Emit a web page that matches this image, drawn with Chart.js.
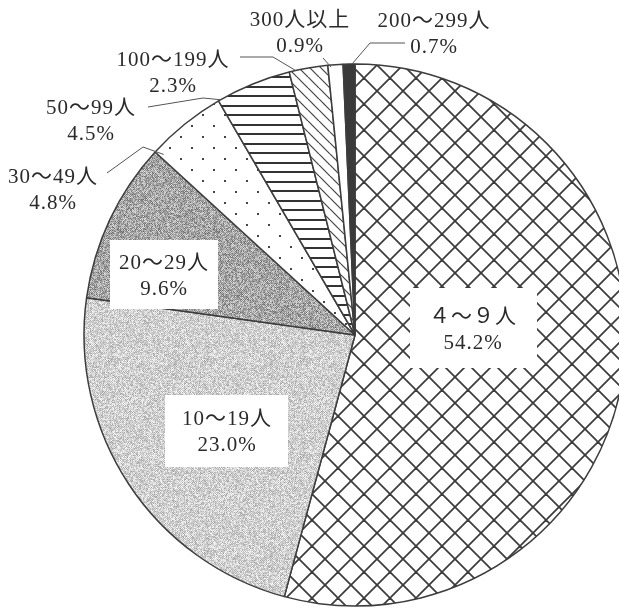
<!DOCTYPE html>
<html>
<head>
<meta charset="utf-8">
<script src="https://cdn.jsdelivr.net/npm/chart.js@4.4.1/dist/chart.umd.min.js"></script>
<style>
  html, body { margin: 0; padding: 0; background: #fff; overflow: hidden; }
  canvas { display: block; }
</style>
</head>
<body>
<canvas id="pie" width="619" height="612"></canvas>
<script>
// Establishments by number of employees (share, %)
const categories = ['４～９人', '10～19人', '20～29人', '30～49人', '50～99人', '100～199人', '300人以上', '200～299人'];
const shares = [54.2, 23.0, 9.6, 4.8, 4.5, 2.3, 0.9, 0.7];

// Label placement, relative to the pie centre (px)
const labelOffsets = [[118, -4.5], [-128, 97.5], [-191, -59], [-302, -144.5], [-264, -213.5], [-182, -261.5], [-55, -301.5], [79, -300.5]];
// White boxes behind the labels that sit inside the pie: [dx, dy, w, h]
const labelBoxes = [[118.5, -7, 127, 80], [-128.5, 96, 123, 72], [-191, -60.5, 108, 69], null, null, null, null, null];
// Leader lines for outside labels: bend points, then where on the slice they end
const leaderPaths = [null, null, null,
  [[-248, -162], [-212, -188]],
  [[-207, -228], [-152, -237]],
  [[-115, -278], [-82, -278]],
  [[-32, -277]],
  [[50, -292], [15, -292]]];
const leaderEnds = [null, null, null, [0.05, -8], [0.03, 0], [0.17, 0], [0.2, -2], [0.75, 0]];

const canvas = document.getElementById('pie');
const ctx = canvas.getContext('2d');

function makeTile(w, h, paint) {
  const c = document.createElement('canvas');
  c.width = w; c.height = h;
  const g = c.getContext('2d');
  paint(g, w, h);
  return ctx.createPattern(c, 'repeat');
}

// cross-hatch
const crossHatch = makeTile(26, 26, (g, s) => {
  g.fillStyle = '#fff'; g.fillRect(0, 0, s, s);
  g.strokeStyle = '#3c3c3c'; g.lineWidth = 1.8;
  for (let k = -1; k <= 1; k++) {
    g.beginPath(); g.moveTo(k * s, 0); g.lineTo(k * s + s, s); g.stroke();
    g.beginPath(); g.moveTo(k * s + s, 0); g.lineTo(k * s, s); g.stroke();
  }
});

// integer hash for the halftone screens
function hash(x, y, s) {
  let h = Math.imul(x, 374761393) + Math.imul(y, 668265263) + Math.imul(s, 982451653);
  h = Math.imul(h ^ (h >>> 13), 1274126177);
  h = h ^ (h >>> 16);
  return (h >>> 0) / 4294967295;
}

// screened grey
function grain(base, amp, seed) {
  return makeTile(96, 96, (g, w, h) => {
    const img = g.createImageData(w, h);
    for (let y = 0; y < h; y++) {
      for (let x = 0; x < w; x++) {
        const n = hash(x, y, seed);
        const checker = ((x + y) & 1) ? 1 : -1;
        let v = base + (n * 2 - 1) * amp + checker * amp * 0.3;
        v = Math.max(0, Math.min(255, v));
        const i = (y * w + x) * 4;
        img.data[i] = img.data[i + 1] = img.data[i + 2] = v;
        img.data[i + 3] = 255;
      }
    }
    g.putImageData(img, 0, 0);
  });
}
const lightScreen = grain(208, 38, 3);
const darkScreen = grain(166, 50, 11);

// sparse dots
const dots = makeTile(22, 22, (g) => {
  g.fillStyle = '#fff'; g.fillRect(0, 0, 22, 22);
  g.fillStyle = '#444';
  g.fillRect(4, 4, 2, 2); g.fillRect(15, 15, 2, 2);
});

// horizontal rules
const rules = makeTile(8, 19, (g) => {
  g.fillStyle = '#fff'; g.fillRect(0, 0, 8, 19);
  g.fillStyle = '#333';
  g.fillRect(0, 0, 8, 2); g.fillRect(0, 10, 8, 2);
});

// back-slash diagonals
const slashes = makeTile(11, 11, (g, s) => {
  g.fillStyle = '#fff'; g.fillRect(0, 0, s, s);
  g.strokeStyle = '#444'; g.lineWidth = 1.2;
  for (let k = -1; k <= 1; k++) {
    g.beginPath(); g.moveTo(k * s, 0); g.lineTo(k * s + s, s); g.stroke();
  }
});

const fills = [crossHatch, lightScreen, darkScreen, dots, rules, slashes, '#ffffff', '#3a3a3a'];

const FONT = '21px "Liberation Serif", "Noto Sans CJK JP", serif';

const labelPlugin = {
  id: 'sliceLabels',
  afterDatasetsDraw(chart) {
    const arcs = chart.getDatasetMeta(0).data;
    const c = chart.ctx;
    const cx = arcs[0].x, cy = arcs[0].y, R = arcs[0].outerRadius;
    c.save();
    // leaders
    c.strokeStyle = '#555';
    c.lineWidth = 1;
    arcs.forEach((arc, i) => {
      const path = leaderPaths[i];
      if (!path) return;
      const [t, dr] = leaderEnds[i];
      const a = arc.startAngle + t * (arc.endAngle - arc.startAngle);
      c.beginPath();
      c.moveTo(cx + path[0][0], cy + path[0][1]);
      for (let k = 1; k < path.length; k++) c.lineTo(cx + path[k][0], cy + path[k][1]);
      c.lineTo(cx + (R + dr) * Math.cos(a), cy + (R + dr) * Math.sin(a));
      c.stroke();
    });
    // boxes
    c.fillStyle = '#fff';
    labelBoxes.forEach((b) => {
      if (!b) return;
      c.fillRect(cx + b[0] - b[2] / 2, cy + b[1] - b[3] / 2, b[2], b[3]);
    });
    // text
    c.font = FONT;
    if ('letterSpacing' in c) c.letterSpacing = '1px';
    c.fillStyle = '#2a2a2a';
    c.textAlign = 'center';
    c.textBaseline = 'middle';
    categories.forEach((name, i) => {
      const [dx, dy] = labelOffsets[i];
      c.fillText(name, cx + dx, cy + dy - 13);
      c.fillText(shares[i].toFixed(1) + '%', cx + dx, cy + dy + 13);
    });
    c.restore();
  }
};

new Chart(ctx, {
  type: 'pie',
  data: {
    labels: categories,
    datasets: [{
      data: shares,
      backgroundColor: fills,
      borderColor: '#3d3d3d',
      borderWidth: 1.5,
      radius: 271,
      clip: false
    }]
  },
  options: {
    responsive: false,
    animation: false,
    events: [],
    rotation: 0,
    layout: { padding: { left: 91, right: 0, top: 58, bottom: 0 } },
    plugins: { legend: { display: false }, tooltip: { enabled: false } }
  },
  plugins: [labelPlugin]
});
</script>
</body>
</html>
